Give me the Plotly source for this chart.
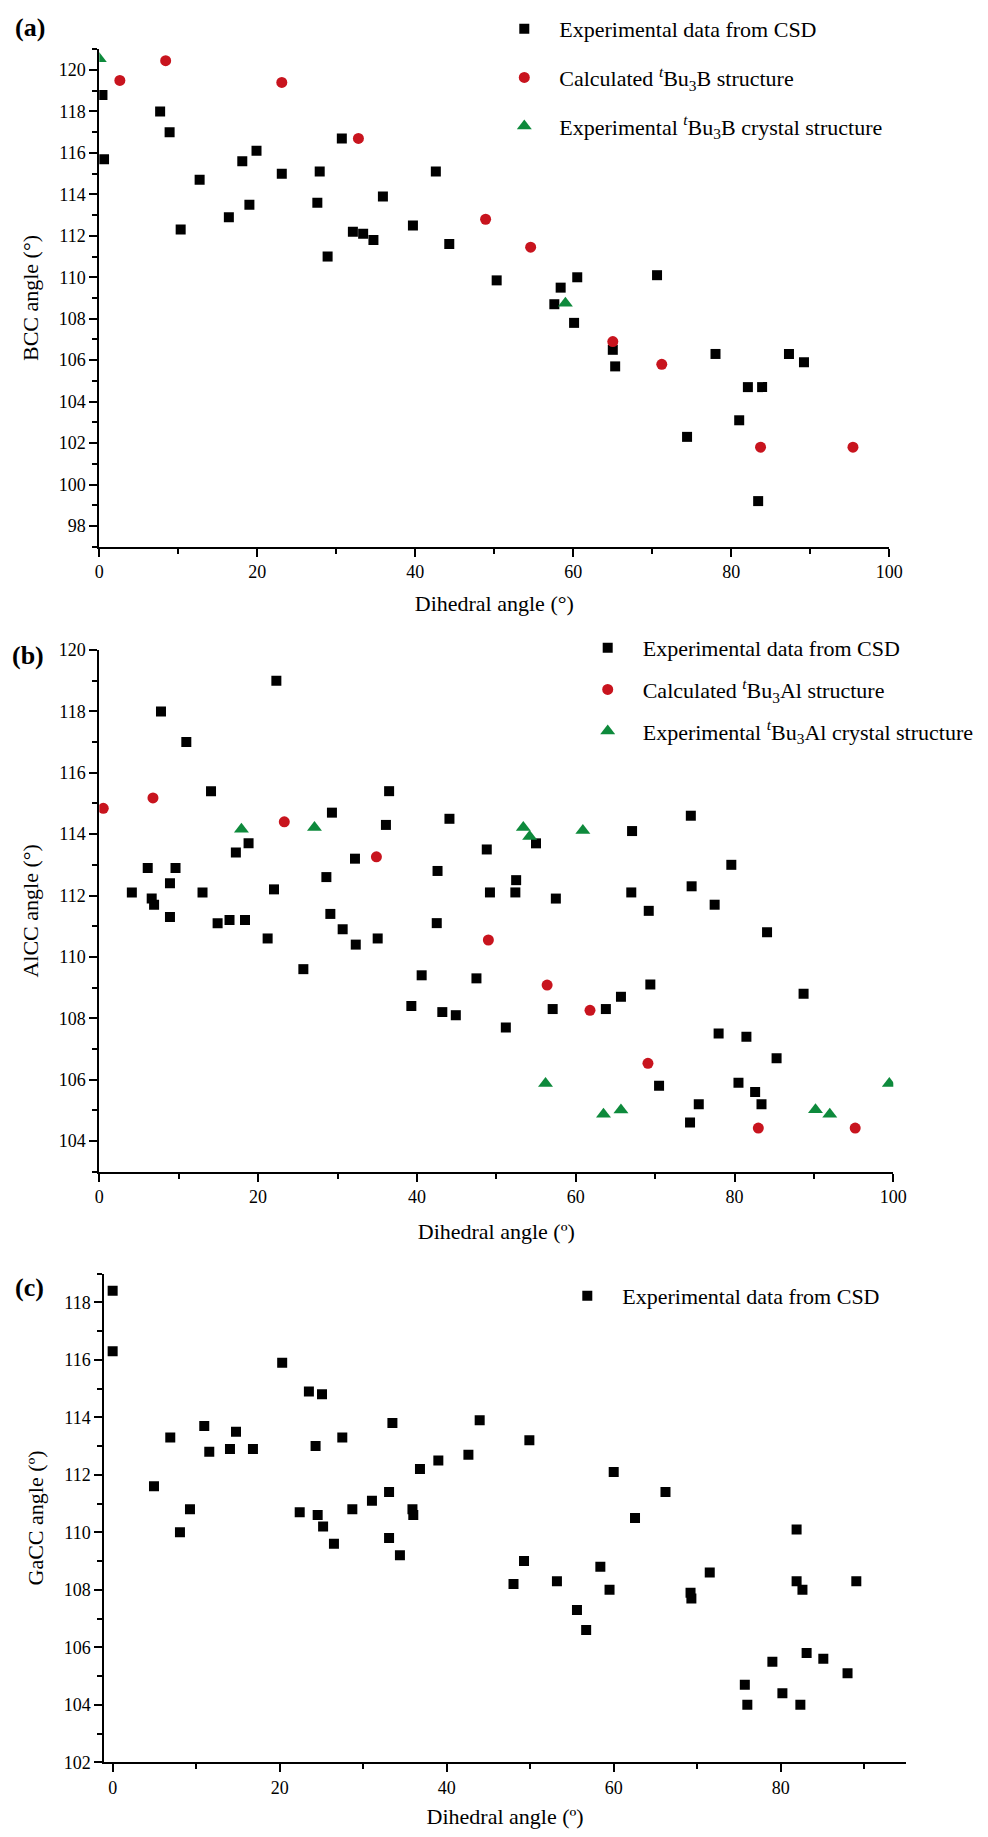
import plotly.graph_objects as go

# ---------------- data ----------------
# Panel (a): B
a_exp_x = [0.4, 0.6, 7.7, 8.9, 10.3, 12.7, 16.4, 18.1, 19.0, 19.9, 23.1, 27.6, 27.9, 28.9, 30.7, 32.1, 33.4,
           34.7, 35.9, 39.7, 42.6, 44.3, 50.3, 57.6, 58.4, 60.1, 60.5, 65.0, 65.3, 70.6, 74.4, 78.0, 81.0,
           82.1, 83.4, 83.9, 87.3, 89.2]
a_exp_y = [118.8, 115.7, 118.0, 117.0, 112.3, 114.7, 112.9, 115.6, 113.5, 116.1, 115.0, 113.6, 115.1, 111.0,
           116.7, 112.2, 112.1, 111.8, 113.9, 112.5, 115.1, 111.6, 109.85, 108.7, 109.5, 107.8, 110.0, 106.5,
           105.7, 110.1, 102.3, 106.3, 103.1, 104.7, 99.2, 104.7, 106.3, 105.9]
a_calc_x = [2.6, 8.4, 23.1, 32.8, 48.9, 54.6, 65.0, 71.2, 83.7, 95.4]
a_calc_y = [119.5, 120.45, 119.4, 116.7, 112.8, 111.45, 106.9, 105.8, 101.8, 101.8]
a_cry_x = [0.0, 59.0]
a_cry_y = [120.55, 108.75]

# Panel (b): Al
b_exp_x = [4.1, 6.1, 6.6, 6.9, 7.77, 8.9, 8.9, 9.6, 10.96, 13.0, 14.07, 14.9, 16.4, 17.2, 18.35, 18.8, 21.2,
           22.0, 22.3, 25.7, 28.6, 29.1, 29.3, 30.65, 32.2, 32.3, 35.06, 36.1, 36.5, 39.3, 40.6, 42.5, 42.6,
           43.2, 44.1, 44.9, 47.5, 48.8, 49.2, 51.2, 52.4, 52.5, 55.0, 57.1, 57.5, 63.8, 65.7, 67.0, 67.1,
           69.2, 69.4, 70.5, 74.4, 74.5, 74.6, 75.5, 77.5, 78.0, 79.6, 80.5, 81.5, 82.6, 83.4, 84.1, 85.3, 88.7]
b_exp_y = [112.1, 112.9, 111.9, 111.7, 118.0, 112.4, 111.3, 112.9, 117.0, 112.1, 115.4, 111.1, 111.2, 113.4,
           111.2, 113.7, 110.6, 112.2, 119.0, 109.6, 112.6, 111.4, 114.7, 110.9, 113.2, 110.4, 110.6, 114.3,
           115.4, 108.4, 109.4, 111.1, 112.8, 108.2, 114.5, 108.1, 109.3, 113.5, 112.1, 107.7, 112.1, 112.5,
           113.7, 108.3, 111.9, 108.3, 108.7, 112.1, 114.1, 111.5, 109.1, 105.8, 104.6, 114.6, 112.3, 105.2,
           111.7, 107.5, 113.0, 105.9, 107.4, 105.6, 105.2, 110.8, 106.7, 108.8]
b_calc_x = [0.5, 6.76, 23.3, 34.9, 49.0, 56.4, 61.8, 69.1, 83.0, 95.2]
b_calc_y = [114.84, 115.18, 114.4, 113.26, 110.55, 109.08, 108.26, 106.53, 104.42, 104.42]
b_cry_x = [17.9, 27.1, 53.4, 54.2, 56.2, 60.9, 63.5, 65.7, 90.2, 92.0, 99.5]
b_cry_y = [114.16, 114.22, 114.22, 113.92, 105.87, 114.12, 104.87, 105.01, 105.02, 104.87, 105.87]

# Panel (c): Ga
c_exp_x = [0.0, 0.0, 4.95, 6.9, 8.06, 9.26, 10.97, 11.57, 14.05, 14.77, 16.8, 20.3, 22.4, 23.5, 24.3, 24.55,
           25.07, 25.2, 26.5, 27.5, 28.7, 31.05, 33.1, 33.1, 33.5, 34.4, 35.9, 36.0, 36.8, 39.0, 42.6, 43.95,
           48.0, 49.26, 49.9, 53.2, 55.6, 56.7, 58.4, 59.5, 60.0, 62.55, 66.2, 69.2, 69.3, 71.5, 75.7, 76.0,
           79.0, 80.2, 81.9, 81.9, 82.35, 82.6, 83.1, 85.1, 88.0, 89.05]
c_exp_y = [118.4, 116.3, 111.6, 113.3, 110.0, 110.8, 113.7, 112.8, 112.9, 113.5, 112.9, 115.9, 110.7, 114.9,
           113.0, 110.6, 114.8, 110.2, 109.6, 113.3, 110.8, 111.1, 111.4, 109.8, 113.8, 109.2, 110.8, 110.6,
           112.2, 112.5, 112.7, 113.9, 108.2, 109.0, 113.2, 108.3, 107.3, 106.6, 108.8, 108.0, 112.1, 110.5,
           111.4, 107.9, 107.7, 108.6, 104.7, 104.0, 105.5, 104.4, 110.1, 108.3, 104.0, 108.0, 105.8, 105.6,
           105.1, 108.3]

legend_names_a = ["Experimental data from CSD",
                  "Calculated <sup><i>t</i></sup>Bu<sub>3</sub>B structure",
                  "Experimental <sup><i>t</i></sup>Bu<sub>3</sub>B crystal structure"]
legend_names_b = ["Experimental data from CSD",
                  "Calculated <sup><i>t</i></sup>Bu<sub>3</sub>Al structure",
                  "Experimental <sup><i>t</i></sup>Bu<sub>3</sub>Al crystal structure"]
legend_names_c = ["Experimental data from CSD"]

# ---------------- style ----------------
SERIF = "Liberation Serif, Times New Roman, serif"
BLACK = "#000000"
RED = "#C8141E"
GREEN = "#0E8A3C"
W, H = 988, 1837

fig = go.Figure()


def add(x, y, name, axis_suffix, legend, group, symbol, color, size):
    fig.add_trace(go.Scatter(
        x=x, y=y, mode="markers", name=name,
        xaxis="x" + axis_suffix, yaxis="y" + axis_suffix,
        legend=legend, legendgroup=group,
        marker=dict(symbol=symbol, color=color, size=size, line=dict(width=0)),
    ))


add(a_exp_x, a_exp_y, legend_names_a[0], "", "legend", "a1", "square", BLACK, 10)
add(a_calc_x, a_calc_y, legend_names_a[1], "", "legend", "a2", "circle", RED, 11)
add(a_cry_x, a_cry_y, legend_names_a[2], "", "legend", "a3", "triangle-up", GREEN, 13)

add(b_exp_x, b_exp_y, legend_names_b[0], "2", "legend2", "b1", "square", BLACK, 10)
add(b_calc_x, b_calc_y, legend_names_b[1], "2", "legend2", "b2", "circle", RED, 11)
add(b_cry_x, b_cry_y, legend_names_b[2], "2", "legend2", "b3", "triangle-up", GREEN, 13)

add(c_exp_x, c_exp_y, legend_names_c[0], "3", "legend3", "c1", "square", BLACK, 10)


def xax(domain, rng, anchor, title, standoff=12):
    return dict(
        domain=domain, range=rng, anchor=anchor,
        showgrid=False, zeroline=False, showline=True, linecolor=BLACK, linewidth=2,
        ticks="outside", ticklen=8, tickwidth=2, tickcolor=BLACK,
        tick0=0, dtick=20,
        minor=dict(ticks="outside", ticklen=5, tickwidth=2, tickcolor=BLACK, dtick=10, tick0=0),
        tickfont=dict(family=SERIF, size=18, color=BLACK),
        title=dict(text=title, font=dict(family=SERIF, size=22, color=BLACK), standoff=standoff),
        automargin=False, fixedrange=True,
    )


def yax(domain, rng, anchor, title, tick0):
    return dict(
        domain=domain, range=rng, anchor=anchor,
        showgrid=False, zeroline=False, showline=True, linecolor=BLACK, linewidth=2,
        ticks="outside", ticklen=8, tickwidth=2, tickcolor=BLACK,
        tick0=tick0, dtick=2,
        minor=dict(ticks="outside", ticklen=5, tickwidth=2, tickcolor=BLACK, dtick=1, tick0=tick0),
        tickfont=dict(family=SERIF, size=18, color=BLACK),
        title=dict(text=title, font=dict(family=SERIF, size=22, color=BLACK), standoff=14),
        automargin=False, fixedrange=True,
    )


def legend_cfg(xpx, ypx, gap):
    return dict(
        x=xpx / W, y=1 - ypx / H, xanchor="left", yanchor="top",
        font=dict(family=SERIF, size=22, color=BLACK),
        itemwidth=60, tracegroupgap=gap, bgcolor="rgba(0,0,0,0)", borderwidth=0,
    )


fig.update_layout(
    width=W, height=H, autosize=False,
    margin=dict(l=0, r=0, t=0, b=0),
    paper_bgcolor="white", plot_bgcolor="white",
    font=dict(family=SERIF, color=BLACK),
    showlegend=True,
    xaxis=xax([99.3 / W, 889.3 / W], [0, 100], "y", "Dihedral angle (°)", 14),
    yaxis=yax([1 - 546.7 / H, 1 - 49.3 / H], [97, 121], "x", "BCC angle (°)", 0),
    xaxis2=xax([99.3 / W, 893.3 / W], [0, 100], "y2", "Dihedral angle (º)", 17),
    yaxis2=yax([1 - 1171.7 / H, 1 - 650 / H], [103, 120], "x2", "AlCC angle (°)", 0),
    xaxis3=xax([104.3 / W, 906 / W], [-1, 95], "y3", "Dihedral angle (º)", 12),
    yaxis3=yax([1 - 1762.3 / H, 1 - 1273.55 / H], [102, 119], "x3", "GaCC angle (º)", 0),
    legend=legend_cfg(489.3, 8, 17),
    legend2=legend_cfg(572.7, 627, 10),
    legend3=legend_cfg(552.3, 1275, 10),
    annotations=[
        dict(text="<b>(a)</b>", x=30 / W, y=1 - 28 / H, xref="paper", yref="paper", showarrow=False,
             xanchor="center", yanchor="middle", font=dict(family=SERIF, size=26, color=BLACK)),
        dict(text="<b>(b)</b>", x=28 / W, y=1 - 656 / H, xref="paper", yref="paper", showarrow=False,
             xanchor="center", yanchor="middle", font=dict(family=SERIF, size=26, color=BLACK)),
        dict(text="<b>(c)</b>", x=29 / W, y=1 - 1287 / H, xref="paper", yref="paper", showarrow=False,
             xanchor="center", yanchor="middle", font=dict(family=SERIF, size=26, color=BLACK)),
    ],
)

fig.write_html("out.html", config={"displayModeBar": False},
               post_script="document.body.style.margin='0';")
